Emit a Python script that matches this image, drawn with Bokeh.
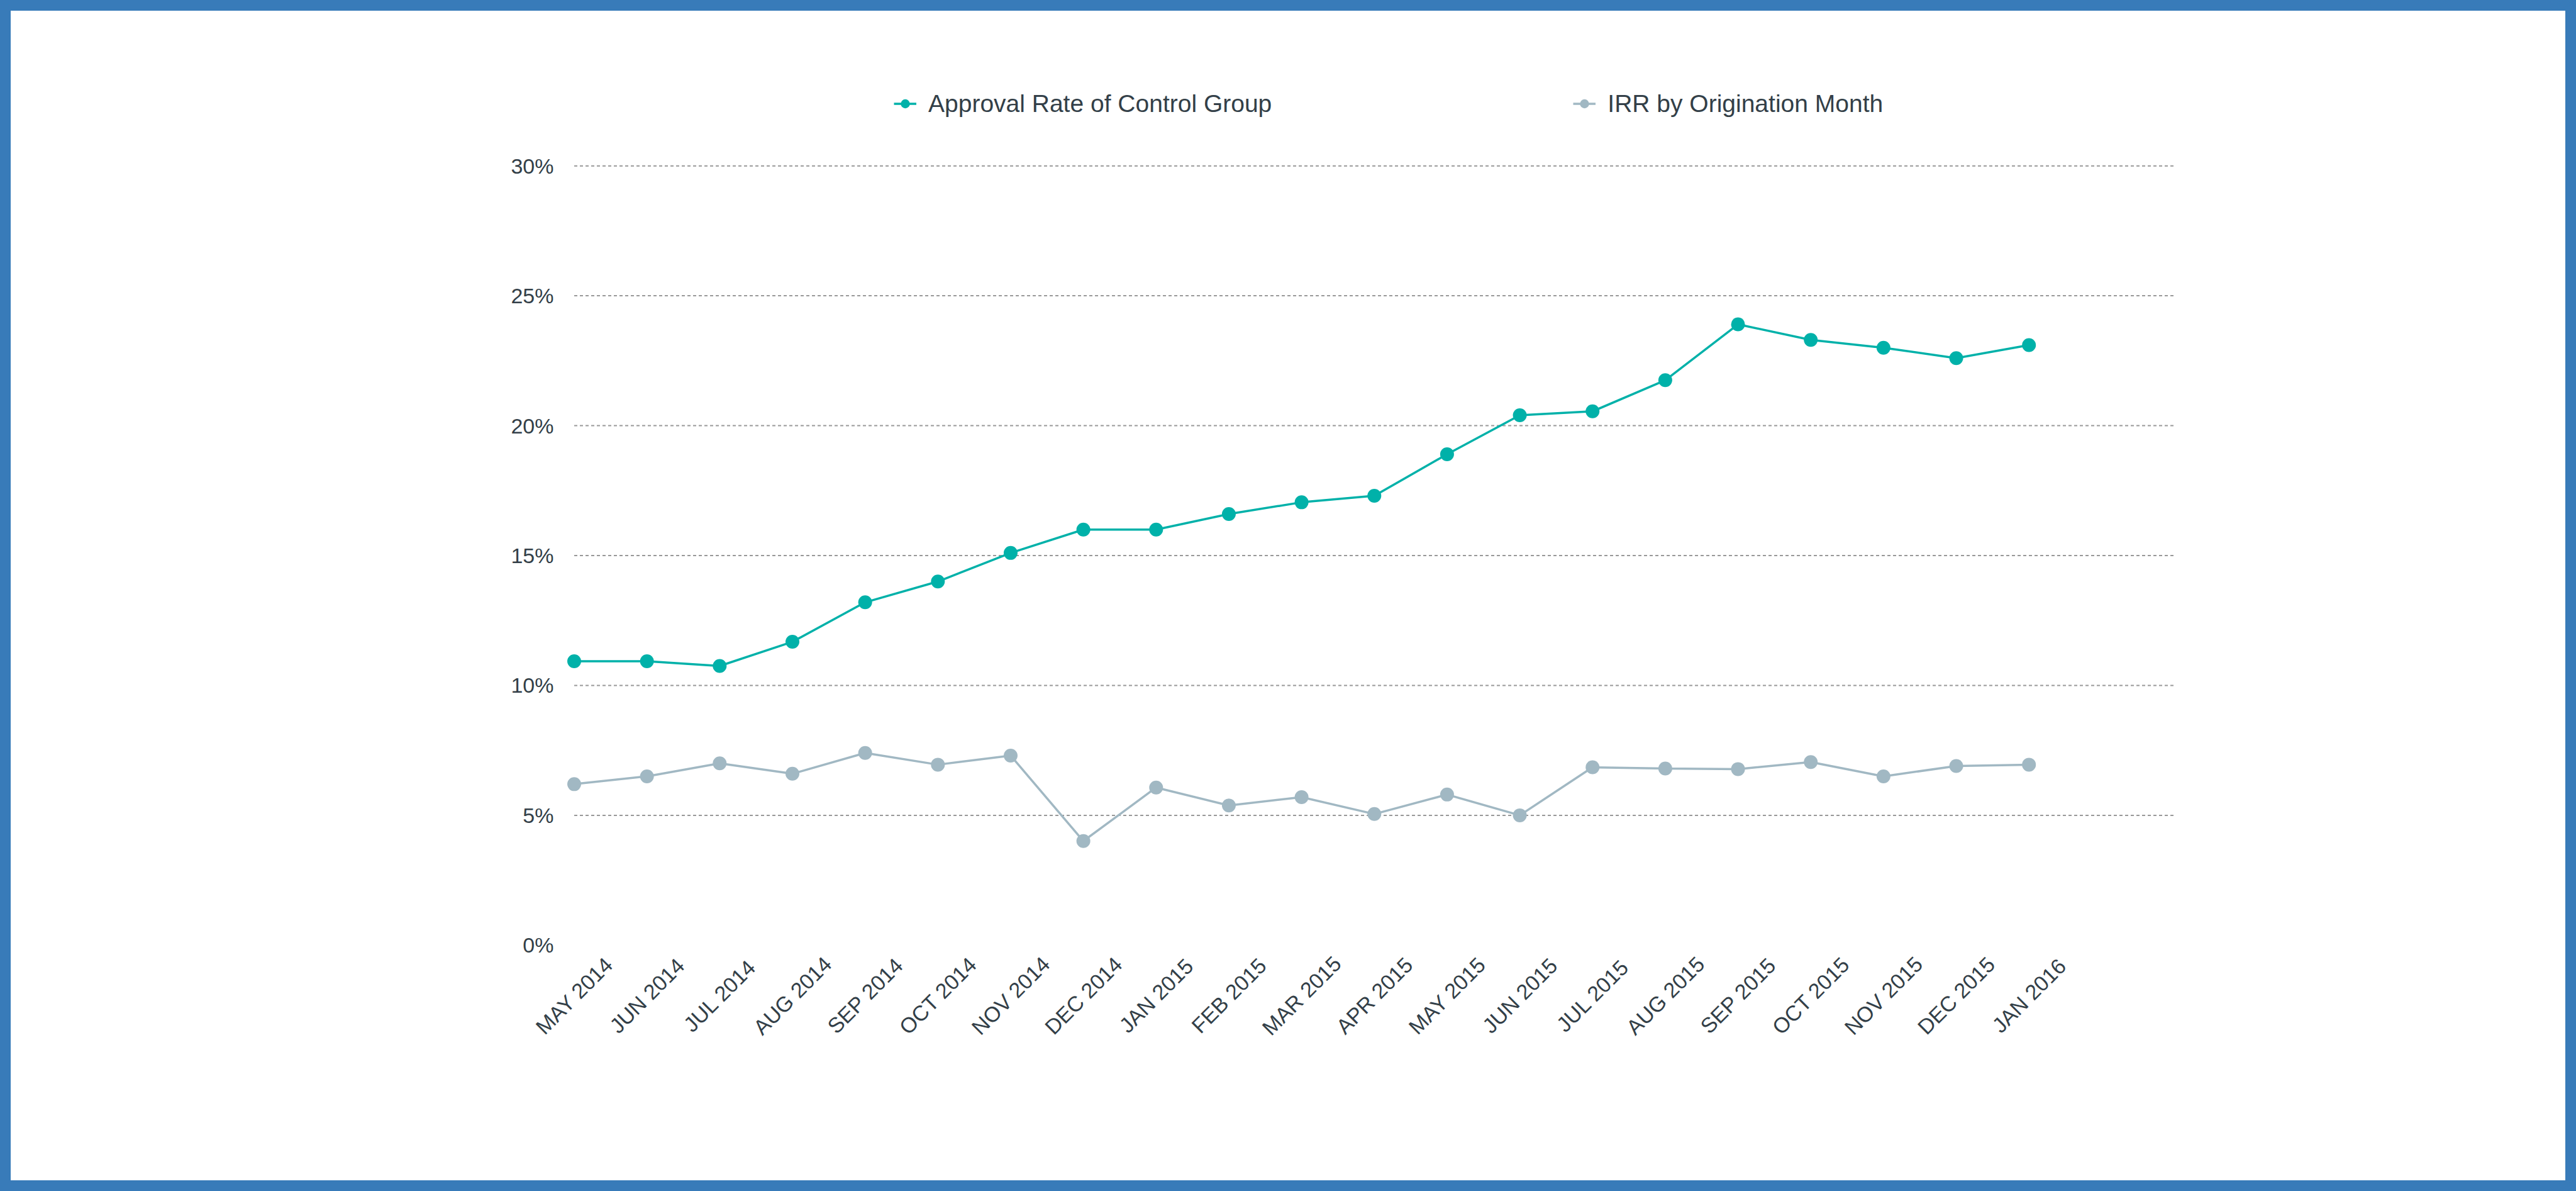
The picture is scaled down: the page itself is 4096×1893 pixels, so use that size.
from bokeh.plotting import figure
from bokeh.models import (Range1d, FixedTicker, Legend, LegendItem, ColumnDataSource,
                          CustomJSTickFormatter)
from bokeh.layouts import column
from bokeh.core.properties import value
from bokeh.embed import file_html
from bokeh.resources import INLINE
import math

months = ["MAY 2014", "JUN 2014", "JUL 2014", "AUG 2014", "SEP 2014", "OCT 2014",
          "NOV 2014", "DEC 2014", "JAN 2015", "FEB 2015", "MAR 2015", "APR 2015",
          "MAY 2015", "JUN 2015", "JUL 2015", "AUG 2015", "SEP 2015", "OCT 2015",
          "NOV 2015", "DEC 2015", "JAN 2016"]

approval_rate = [10.93, 10.93, 10.75, 11.68, 13.2, 14.0, 15.1, 16.0, 16.0, 16.6,
                 17.05, 17.3, 18.9, 20.4, 20.55, 21.75, 23.9, 23.3, 23.0, 22.6, 23.1]

irr = [6.2, 6.5, 7.0, 6.6, 7.4, 6.95, 7.3, 4.01, 6.07, 5.38, 5.7, 5.05, 5.8, 5.0,
       6.85, 6.8, 6.78, 7.05, 6.5, 6.9, 6.95]

y_ticks = [0, 5, 10, 15, 20, 25, 30]
grid_ticks = [5, 10, 15, 20, 25, 30]

legend_labels = ["Approval Rate of Control Group", "IRR by Origination Month"]

TEAL = "#00b1a9"
GRAY = "#a1b8c3"
TEXT = "#333f48"
FONT = "Liberation Sans"

idx = list(range(len(months)))
n_slots = len(months) + 1

p = figure(width=4062, height=1859, output_backend="svg", toolbar_location=None,
           x_range=Range1d(-0.8, n_slots), y_range=Range1d(-4, 34),
           min_border_left=803, min_border_right=622, min_border_top=81,
           min_border_bottom=209, outline_line_color=None,
           styles={"background-color": "white"})
p.background_fill_color = "white"
p.border_fill_color = "white"
p.xgrid.visible = False
p.ygrid.visible = False
p.xaxis.visible = False

yax = p.yaxis[0]
yax.ticker = FixedTicker(ticks=y_ticks)
yax.formatter = CustomJSTickFormatter(code="return tick + '%';")
yax.axis_line_color = None
yax.major_tick_line_color = None
yax.minor_tick_line_color = None
yax.major_tick_out = 0
yax.major_tick_in = 0
yax.minor_tick_out = 0
yax.major_label_standoff = -60
yax.major_label_text_font = FONT
yax.major_label_text_font_size = "34px"
yax.major_label_text_color = TEXT

# dotted horizontal grid lines spanning the category slots
p.segment(x0=0, x1=n_slots, y0=grid_ticks, y1=grid_ticks, line_color="#999999",
          line_width=2, line_dash="5 4")

src = ColumnDataSource(dict(x=idx, a=approval_rate, r=irr, lab=months))

l1 = p.line("x", "a", source=src, line_color=TEAL, line_width=3.5)
s1 = p.scatter("x", "a", source=src, size=22, fill_color=TEAL, line_color=None)
l2 = p.line("x", "r", source=src, line_color=GRAY, line_width=3.5)
s2 = p.scatter("x", "r", source=src, size=22, fill_color=GRAY, line_color=None)

# rotated category labels
p.text(x="x", y=-1.94, text="lab", source=src, angle=math.pi / 4,
       text_align="center", text_baseline="middle", text_font=value(FONT),
       text_font_size="34px", text_color=TEXT)

legend = Legend(items=[LegendItem(label=legend_labels[0], renderers=[l1, s1]),
                       LegendItem(label=legend_labels[1], renderers=[l2, s2])],
                orientation="horizontal", location=(601, 1480),
                glyph_width=36, glyph_height=45, label_standoff=19, spacing=479,
                padding=0, margin=0, border_line_color=None,
                background_fill_alpha=0, label_text_font=FONT,
                label_text_font_size="39px", label_text_color=TEXT)
p.add_layout(legend, "center")

layout = column(p, styles={"background-color": "#387bb9", "padding": "17px"})

open("out.html", "w").write(file_html(layout, INLINE))
